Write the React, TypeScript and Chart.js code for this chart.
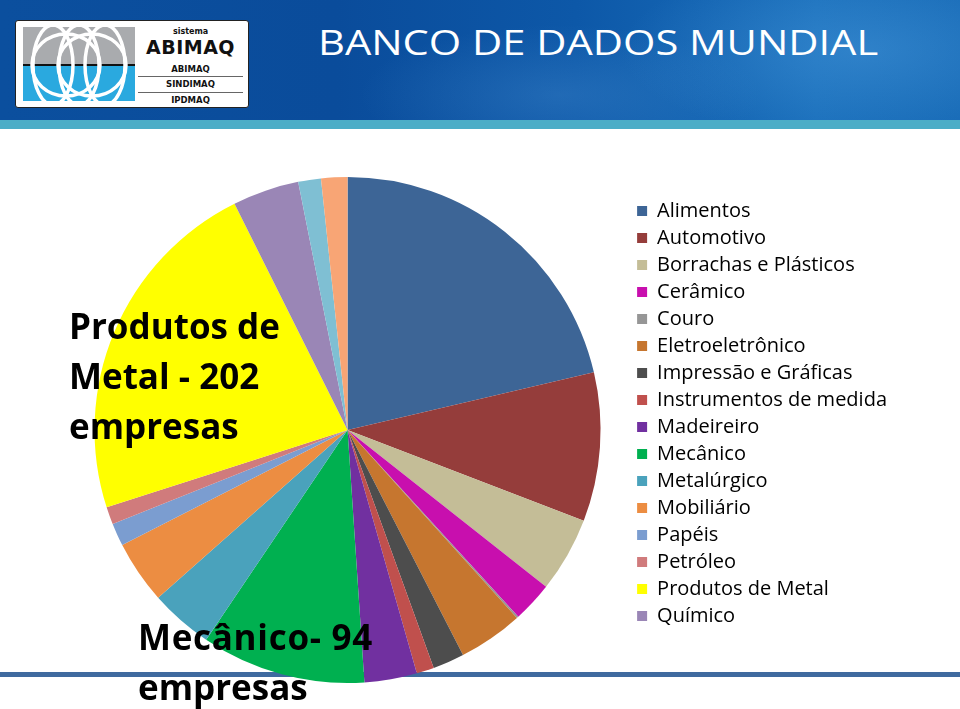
import React, { useEffect, useRef } from "react";
import { Chart, registerables } from "chart.js";

Chart.register(...registerables);

const categories = [
  "Alimentos",
  "Automotivo",
  "Borrachas e Plásticos",
  "Cerâmico",
  "Couro",
  "Eletroeletrônico",
  "Impressão e Gráficas",
  "Instrumentos de medida",
  "Madeireiro",
  "Mecânico",
  "Metalúrgico",
  "Mobiliário",
  "Papéis",
  "Petróleo",
  "Produtos de Metal",
  "Químico",
  "Têxtil",
  "Outros",
];

const companies = [191, 85, 43, 23, 1, 37, 18, 10, 30, 94, 36, 36, 13, 10, 202, 38, 13, 15];

const sliceColors = [
  "#3d6596",
  "#953d3b",
  "#c4bd97",
  "#c80fae",
  "#969696",
  "#c6762f",
  "#4d4d4d",
  "#c0504d",
  "#7130a0",
  "#00b050",
  "#4aa2bc",
  "#ec8d42",
  "#7b9dd0",
  "#d07b7c",
  "#ffff00",
  "#9a86b6",
  "#7fbfd3",
  "#f8a575",
];

const legendShown = 16;

const titleText = "BANCO DE DADOS MUNDIAL";
const metalNote = ["Produtos de", "Metal - 202", "empresas"];
const mecNote = ["Mecânico- 94", "empresas"];

const LEGEND_FONT = "'Open Sans', sans-serif";
const LEGEND_SIZE = 20;
const LEGEND_BOX = 10;
const LEGEND_PAD = 7;

function Logo() {
  return (
    <div
      style={{
        position: "absolute",
        left: 15,
        top: 20,
        width: 234,
        height: 88,
        background: "#fff",
        border: "1px solid #222",
        borderRadius: 3,
        boxSizing: "border-box",
        overflow: "hidden",
      }}
    >
      <svg width={112} height={74} style={{ position: "absolute", left: 7, top: 6 }}>
        <defs>
          <clipPath id="emb">
            <rect x={0} y={0} width={112} height={74} />
          </clipPath>
        </defs>
        <rect x={0} y={0} width={112} height={37} fill="#a9abae" />
        <rect x={0} y={37} width={112} height={2} fill="#111" />
        <rect x={0} y={39} width={112} height={35} fill="#2aa9df" />
        <g clipPath="url(#emb)" fill="none" stroke="#fff" strokeWidth={3.5}>
          <ellipse cx={30} cy={38} rx={20} ry={40} />
          <ellipse cx={56} cy={38} rx={20} ry={40} />
          <ellipse cx={82} cy={38} rx={20} ry={40} />
          <ellipse cx={43} cy={38} rx={34} ry={31} />
          <ellipse cx={69} cy={38} rx={34} ry={31} />
        </g>
      </svg>
      <div style={{ position: "absolute", left: 122, width: 105, top: 6, textAlign: "center", fontFamily: "'DejaVu Sans', sans-serif", fontWeight: 700, color: "#111" }}>
        <div style={{ fontSize: 8, lineHeight: "10px" }}>sistema</div>
        <div style={{ fontSize: 19, lineHeight: "20px", letterSpacing: 0.5 }}>ABIMAQ</div>
      </div>
      <div style={{ position: "absolute", left: 122, width: 105, top: 41, textAlign: "center", fontFamily: "'DejaVu Sans', sans-serif", fontWeight: 700, color: "#111", fontSize: 8.5 }}>
        <div style={{ lineHeight: "14px", borderBottom: "1.5px solid #666" }}>ABIMAQ</div>
        <div style={{ lineHeight: "15px", borderBottom: "1.5px solid #666" }}>SINDIMAQ</div>
        <div style={{ lineHeight: "15px" }}>IPDMAQ</div>
      </div>
    </div>
  );
}

export default function App() {
  const canvasRef = useRef<HTMLCanvasElement>(null);

  useEffect(() => {
    document.body.style.margin = "0";
    const canvas = canvasRef.current;
    if (!canvas) return;

    // measure the widest legend label so the legend box starts where wanted
    const mctx = document.createElement("canvas").getContext("2d")!;
    mctx.font = `${LEGEND_SIZE}px ${LEGEND_FONT}`;
    let maxText = 0;
    categories.slice(0, legendShown).forEach((c) => {
      maxText = Math.max(maxText, mctx.measureText(c).width);
    });
    const legendWidth = LEGEND_PAD + LEGEND_BOX + LEGEND_SIZE / 2 + maxText + 10;
    const legendLeft = 629;
    const rightPad = Math.max(0, Math.floor(960 - legendLeft - legendWidth - 1));

    const chart = new Chart(canvas, {
      type: "pie",
      data: {
        labels: categories,
        datasets: [
          {
            data: companies,
            backgroundColor: sliceColors,
            borderWidth: 0,
            radius: 253,
          } as any,
        ],
      },
      options: {
        responsive: false,
        maintainAspectRatio: false,
        animation: false,
        events: [],
        radius: 253,
        layout: { padding: { left: 65, right: rightPad, top: 64, bottom: 43 } },
        plugins: {
          legend: {
            position: "right",
            align: "start",
            labels: {
              boxWidth: LEGEND_BOX,
              boxHeight: LEGEND_BOX,
              padding: LEGEND_PAD,
              color: "#000",
              font: { family: LEGEND_FONT, size: LEGEND_SIZE },
              filter: (item: any) => item.index < legendShown,
            },
          },
          tooltip: { enabled: false },
        },
      } as any,
    });
    return () => chart.destroy();
  }, []);

  return (
    <div style={{ position: "absolute", left: 0, top: 0, width: 960, height: 709, overflow: "hidden", background: "#fff" }}>
      <div
        style={{
          position: "absolute",
          left: 0,
          top: 0,
          width: 960,
          height: 120,
          background:
            "radial-gradient(ellipse 240px 90px at 860px 50px, rgba(80,160,225,0.4), rgba(80,160,225,0) 100%), radial-gradient(ellipse 200px 70px at 560px 95px, rgba(80,150,215,0.3), rgba(80,150,215,0) 100%), linear-gradient(90deg, #0b4f9e 0%, #0a4c9b 35%, #0d58a8 60%, #1a6fbb 85%, #176ab6 100%)",
        }}
      />
      <Logo />
      <div
        style={{
          position: "absolute",
          left: 318,
          top: 24,
          fontFamily: "'Open Sans', sans-serif",
          fontSize: 35,
          lineHeight: "35px",
          color: "#fff",
          whiteSpace: "nowrap",
          transform: "scaleX(1.19)",
          transformOrigin: "left top",
        }}
      >
        {titleText}
      </div>
      <div style={{ position: "absolute", left: 0, top: 120, width: 960, height: 9, background: "#4badc7" }} />
      <div style={{ position: "absolute", left: 0, top: 672, width: 960, height: 5, background: "#3f6a9f" }} />
      <canvas
        ref={canvasRef}
        width={960}
        height={579}
        style={{ position: "absolute", left: 0, top: 130, width: 960, height: 579 }}
      />
      <div
        style={{
          position: "absolute",
          left: 69,
          top: 301,
          fontFamily: "'Open Sans', sans-serif",
          fontWeight: 700,
          fontSize: 35,
          lineHeight: "50px",
          color: "#000",
          whiteSpace: "nowrap",
        }}
      >
        {metalNote.map((t) => (
          <div key={t}>{t}</div>
        ))}
      </div>
      <div
        style={{
          position: "absolute",
          left: 138,
          top: 612,
          fontFamily: "'Open Sans', sans-serif",
          fontWeight: 700,
          fontSize: 35,
          lineHeight: "50px",
          color: "#000",
          whiteSpace: "nowrap",
        }}
      >
        {mecNote.map((t, i) => (
          <div key={t} style={{ letterSpacing: i === 0 ? 0.7 : 0 }}>{t}</div>
        ))}
      </div>
    </div>
  );
}
